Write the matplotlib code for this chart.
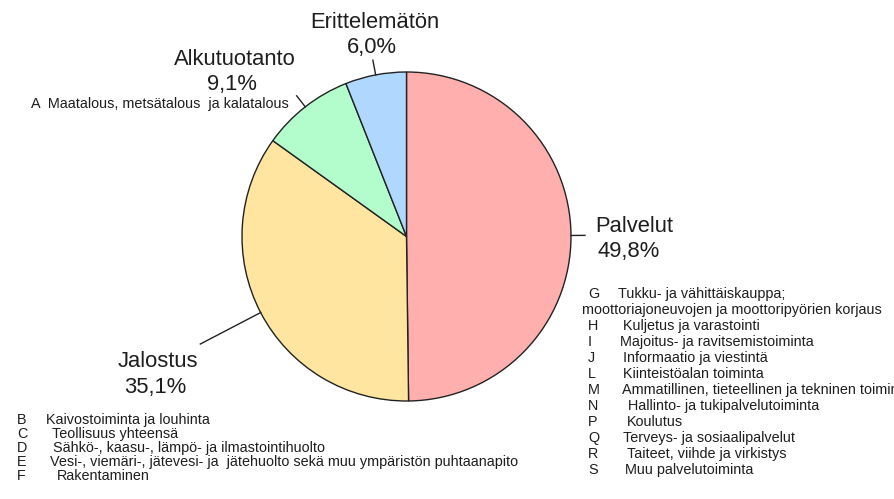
import numpy as np
from matplotlib import pyplot as plt

# pie data
sectors = ["Palvelut", "Jalostus", "Alkutuotanto", "Erittelemätön"]
shares = [49.8, 35.1, 9.1, 6.0]
colors = ["#FFB0AE", "#FFE5A0", "#B2FDCB", "#B0D8FE"]

# toimialaluokat
primary_codes = ["A"]
primary_names = ["Maatalous, metsätalous  ja kalatalous"]
industry_codes = ["B", "C", "D", "E", "F"]
industry_names = ["Kaivostoiminta ja louhinta",
                  "Teollisuus yhteensä",
                  "Sähkö-, kaasu-, lämpö- ja ilmastointihuolto",
                  "Vesi-, viemäri-, jätevesi- ja  jätehuolto sekä muu ympäristön puhtaanapito",
                  "Rakentaminen"]
service_codes = ["G", "", "H", "I", "J", "L", "M", "N", "P", "Q", "R", "S"]
service_names = ["Tukku- ja vähittäiskauppa;",
                 "moottoriajoneuvojen ja moottoripyörien korjaus",
                 "Kuljetus ja varastointi",
                 "Majoitus- ja ravitsemistoiminta",
                 "Informaatio ja viestintä",
                 "Kiinteistöalan toiminta",
                 "Ammatillinen, tieteellinen ja tekninen toiminta",
                 "Hallinto- ja tukipalvelutoiminta",
                 "Koulutus",
                 "Terveys- ja sosiaalipalvelut",
                 "Taiteet, viihde ja virkistys",
                 "Muu palvelutoiminta"]

W, H = 894, 499
FONT = "Liberation Sans"
BIG = 15.8
SMALL = 10.4
INK = "#1e1e1e"


def Y(y):
    # pixel row -> data y
    return H - y


fig = plt.figure(figsize=(W / 100, H / 100), dpi=100)
ax = fig.add_axes([0, 0, 1, 1])

cx, cy, r = 406.5, 236.5, 164.5
wedges, _ = ax.pie(shares, colors=colors, startangle=90, counterclock=False,
                   center=(cx, Y(cy)), radius=r,
                   wedgeprops=dict(edgecolor="#222222", linewidth=1.0))
ax.set_xlim(0, W)
ax.set_ylim(0, H)
ax.set_aspect("equal")
ax.axis("off")

# leader line lengths and label placement (x, name baseline, pct baseline, align)
leads = [14, 68, 14, 15]
label_pos = [(595, 232, 257, "left"),
             (158, 367, 393, "center"),
             (235, 65, 90, "center"),
             (375, 28, 53, "center")]

for w, name, val, lead, (lx, ny, py, ha) in zip(wedges, sectors, shares, leads, label_pos):
    th = np.deg2rad((w.theta1 + w.theta2) / 2)
    x0, y0 = cx + r * np.cos(th), Y(cy) + r * np.sin(th)
    x1, y1 = cx + (r + lead) * np.cos(th), Y(cy) + (r + lead) * np.sin(th)
    ax.plot([x0, x1], [y0, y1], color="#222222", lw=1.0)
    pct = ("%.1f" % val).replace(".", ",") + "%"
    ax.text(lx, Y(ny), name, ha=ha, va="baseline", fontsize=BIG,
            family=FONT, color=INK)
    px = lx + 2 if ha == "left" else lx - 3
    ax.text(px, Y(py), pct, ha=ha, va="baseline", fontsize=BIG,
            family=FONT, color=INK)

# A-luokka alkutuotannon alla
ax.text(289, Y(108), primary_codes[0] + "  " + primary_names[0], ha="right",
        fontsize=SMALL, family=FONT, va="baseline", color=INK)

# jalostuksen luokat
ind_x = [46, 52, 53, 50, 57]
for i, (c, n) in enumerate(zip(industry_codes, industry_names)):
    yb = 424 + 14 * i
    ax.text(17, Y(yb), c, fontsize=SMALL, family=FONT, va="baseline", color=INK)
    ax.text(ind_x[i], Y(yb), n, fontsize=SMALL, family=FONT, va="baseline", color=INK)

# palveluiden luokat
srv_x = [618, 582, 623, 620, 623, 623, 622, 628, 627, 623, 627, 625]
for i, (c, n) in enumerate(zip(service_codes, service_names)):
    yb = 298 + 16 * i
    ax.text(588, Y(yb), c, fontsize=SMALL, family=FONT, va="baseline", color=INK)
    ax.text(srv_x[i], Y(yb), n, fontsize=SMALL, family=FONT, va="baseline", color=INK)

plt.savefig("out.png", dpi=100)
